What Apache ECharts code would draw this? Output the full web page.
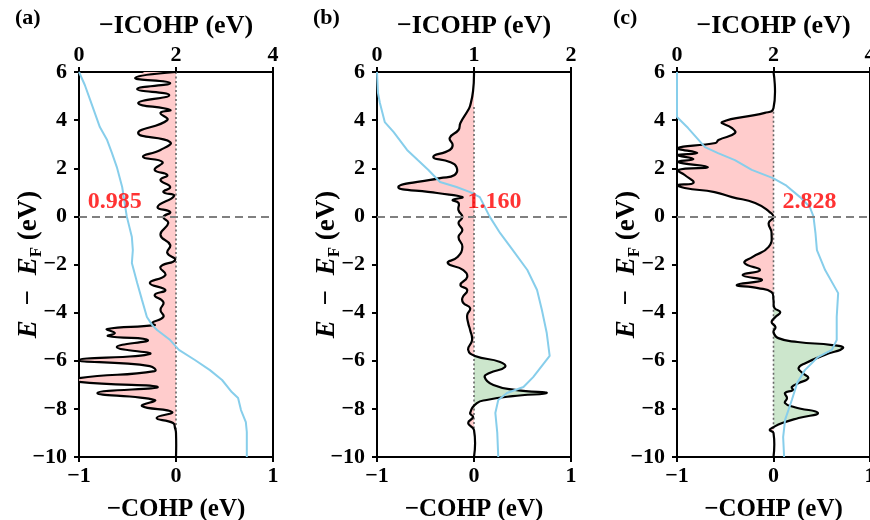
<!DOCTYPE html>
<html>
<head>
<meta charset="utf-8">
<script src="https://cdn.jsdelivr.net/npm/echarts@6.0.0/dist/echarts.min.js"></script>
<style>
  html, body { margin: 0; padding: 0; background: #fff; }
  #chart { width: 870px; height: 520px; }
</style>
</head>
<body>
<div id="chart"></div>
<script>
// ---- (a) ----
const energyA = [6.00, 5.75, 5.54, 5.29, 5.04, 4.71, 4.42, 4.30, 4.00, 3.46, 3.09, 2.76, 2.47, 2.26, 1.93, 1.72, 1.51, 1.22, 1.01, 0.85,
  0.39, 0.18, -0.03, -0.28, -0.77, -1.19, -1.52, -1.81, -2.10, -2.44, -2.77, -3.06, -3.27, -3.56, -3.89, -4.18, -4.43, -4.52, -4.68, -4.85,
  -4.97, -5.14, -5.43, -5.72, -5.97, -6.22, -6.43, -6.72, -6.88, -7.09, -7.34, -7.63, -7.88, -8.13, -8.38, -8.59, -8.80, -9.00, -10.00];
const cohpA = [0, -0.42, -0.06, -0.40, -0.07, -0.39, -0.06, -0.16, -0.09, -0.39, -0.06, -0.16, -0.34, -0.14, -0.22, -0.09, -0.16, -0.06, -0.13, -0.02,
  -0.19, -0.06, -0.13, -0.08, -0.16, -0.06, -0.09, -0.01, -0.16, -0.11, -0.27, -0.11, -0.22, -0.13, -0.16, -0.13, -0.25, -0.22, -0.71, -0.63,
  -0.70, -0.29, -0.61, -0.27, -1.00, -0.27, -0.22, -1.00, -1.00, -0.19, -0.81, -0.22, -0.35, -0.04, -0.20, -0.03, -0.01, 0, 0];
const icohpEnergyA = [6.0, 5.46, 4.84, 3.71, 3.17, 2.63, 2.05, 1.22, 0, -0.86, -1.40, -1.94, -2.77, -3.48, -4.18, -4.52, -4.72, -5.14,
  -5.55, -5.97, -6.39, -6.80, -7.30, -7.55, -8.05, -8.55, -8.96, -10.0];
const icohpA = [0, 0.12, 0.23, 0.43, 0.58, 0.68, 0.78, 0.89, 0.985, 1.09, 1.11, 1.09, 1.20, 1.30, 1.40, 1.51, 1.61, 1.88,
  2.06, 2.39, 2.70, 2.95, 3.15, 3.28, 3.34, 3.44, 3.46, 3.46];

// ---- (b) ----
const energyB = [6.0, 5.2, 4.6, 4.42, 3.88, 3.59, 3.26, 2.97, 2.76, 2.47, 2.26, 2.05, 1.72, 1.59, 1.22, 0.97, 0.80, 0.68, 0.56, 0.26,
  -0.03, -0.28, -0.57, -0.86, -1.27, -1.69, -1.94, -2.23, -2.52, -2.85, -3.06, -3.39, -3.60, -3.81, -4.10, -4.43, -4.72, -5.14, -5.55, -5.80,
  -6.05, -6.26, -6.51, -6.68, -7.01, -7.22, -7.34, -7.47, -7.63, -7.76, -8.17, -8.34, -8.59, -8.88, -10.0];
const cohpB = [0, -0.01, -0.04, -0.06, -0.14, -0.16, -0.25, -0.22, -0.25, -0.42, -0.25, -0.18, -0.20, -0.35, -0.78, -0.38, -0.12, -0.22, -0.16, -0.16,
  -0.12, -0.16, -0.12, -0.16, -0.12, -0.17, -0.27, -0.11, -0.07, -0.14, -0.07, -0.12, -0.11, -0.04, -0.07, -0.06, -0.04, -0.02, -0.06, 0.01,
  0.27, 0.32, 0.16, 0.11, 0.20, 0.44, 0.75, 0.40, 0.13, 0.03, -0.04, -0.01, -0.06, 0, 0];
const icohpEnergyB = [6.0, 5.13, 4.71, 3.92, 3.51, 2.76, 2.34, 1.93, 1.43, 1.22, 1.01, 0.80, 0, -0.7, -1.40, -2.23, -3.06, -3.89,
  -4.85, -5.80, -6.68, -7.09, -7.34, -7.63, -8.17, -9.00, -10.0];
const icohpB = [0, 0.01, 0.03, 0.08, 0.17, 0.31, 0.42, 0.53, 0.65, 0.82, 0.96, 1.06, 1.160, 1.27, 1.40, 1.55, 1.65, 1.70,
  1.75, 1.78, 1.61, 1.51, 1.34, 1.25, 1.22, 1.24, 1.25];

// ---- (c) ----
const energyC = [6.0, 4.5, 4.30, 3.92, 3.67, 3.46, 3.17, 3.05, 2.84, 2.63, 2.55, 2.38, 2.26, 2.05, 1.93, 1.72, 1.39, 1.30, 1.18, 1.01,
  0.80, 0.56, 0.18, -0.03, -0.28, -0.69, -1.27, -1.69, -1.94, -2.23, -2.44, -2.65, -2.85, -2.98, -3.15, -3.48, -3.81, -3.98, -4.18, -4.39,
  -4.60, -4.81, -5.06, -5.22, -5.35, -5.47, -5.76, -6.10, -6.30, -6.51, -6.72, -6.93, -7.09, -7.22, -7.34, -7.55, -7.76, -7.93, -8.17, -8.38,
  -8.59, -8.76, -8.88, -9.00, -10.0];
const cohpC = [0, 0, -0.09, -0.53, -0.43, -0.40, -0.57, -0.60, -0.99, -0.79, -0.99, -0.83, -0.99, -0.68, -0.99, -0.92, -0.83, -0.99, -0.92, -0.61,
  -0.43, -0.19, -0.04, 0, -0.05, -0.02, -0.05, -0.22, -0.30, -0.14, -0.32, -0.12, -0.38, -0.16, -0.02, 0, 0.01, 0.07, 0.02, -0.02,
  0.02, 0, 0.05, 0.25, 0.61, 0.72, 0.53, 0.33, 0.26, 0.30, 0.36, 0.26, 0.19, 0.20, 0.12, 0.14, 0.12, 0.22, 0.46, 0.26,
  0.09, 0, -0.04, 0, 0];
const icohpEnergyC = [6.0, 4.13, 3.67, 2.88, 2.63, 2.34, 1.93, 1.59, 1.30, 0.80, 0.40, 0, -0.7, -1.40, -2.23, -2.94, -3.19, -4.18,
  -5.14, -5.55, -5.85, -6.39, -6.93, -7.63, -8.46, -9.17, -10.0];
const icohpC = [0, 0, 0.23, 0.58, 0.85, 1.20, 1.55, 1.99, 2.25, 2.55, 2.75, 2.828, 2.87, 2.90, 3.07, 3.27, 3.34, 3.31,
  3.31, 3.21, 2.92, 2.65, 2.49, 2.38, 2.24, 2.20, 2.22];

// Shared axis ticks
const energyTicks = { min: -10, max: 6, step: 2 };
const cohpTicks = { min: -1, max: 1, step: 1 };
const icohpMax = [4, 2, 4];
const icohpStep = [2, 1, 2];
const panelTags = ['(a)', '(b)', '(c)'];

const FONT = '"Liberation Serif", "Times New Roman", serif';
const SMOOTH = 0.5;
const BLUE = '#87CEEB';

const panels = [
  { energy: energyA, cohp: cohpA, iEnergy: icohpEnergyA, icohp: icohpA, span: [6.0, -8.9] },
  { energy: energyB, cohp: cohpB, iEnergy: icohpEnergyB, icohp: icohpB, span: [4.55, -8.9] },
  { energy: energyC, cohp: cohpC, iEnergy: icohpEnergyC, icohp: icohpC, span: [4.35, -8.85] }
];

// layout of the three frames
const frames = [
  { left: 79, width: 194, tagX: 15, labelShift: -12 },
  { left: 377, width: 194, tagX: 313, labelShift: 5 },
  { left: 677, width: 193, tagX: 613, labelShift: -4 }
];

const minus = v => String(v).replace('-', '\u2212');

const tickText = { fontFamily: FONT, fontWeight: 'bold', fontSize: 22, color: '#000' };
const bottomTitle = { fontFamily: FONT, fontWeight: 'bold', fontSize: 25, color: '#000' };
const topTitle = { fontFamily: FONT, fontWeight: 'bold', fontSize: 26, color: '#000' };

const grid = [], xAxis = [], yAxis = [], series = [], graphic = [];

panels.forEach((p, i) => {
  const f = frames[i];
  grid.push({ left: f.left, width: f.width, top: 72, height: 385, show: true, outerBoundsMode: 'none',
    borderColor: '#000', borderWidth: 2, backgroundColor: 'transparent' });

  // bottom: -COHP
  xAxis.push({
    gridIndex: i, type: 'value', position: 'bottom',
    min: cohpTicks.min, max: cohpTicks.max, interval: cohpTicks.step,
    axisLine: { show: true, onZero: false, lineStyle: { color: '#000', width: 2 } },
    axisTick: { show: true, inside: false, length: 5, lineStyle: { color: '#000', width: 2 } },
    axisLabel: Object.assign({ margin: 8, formatter: minus }, tickText),
    splitLine: { show: false },
    name: '\u2212COHP (eV)', nameLocation: 'middle', nameGap: 40, nameMoveOverlap: false, nameTextStyle: bottomTitle
  });
  // top: -ICOHP
  xAxis.push({
    gridIndex: i, type: 'value', position: 'top',
    min: 0, max: icohpMax[i], interval: icohpStep[i],
    axisLine: { show: true, onZero: false, lineStyle: { color: '#000', width: 2 } },
    axisTick: { show: true, inside: false, length: 5, lineStyle: { color: '#000', width: 2 } },
    axisLabel: Object.assign({ margin: 6, formatter: minus }, tickText),
    splitLine: { show: false },
    name: '\u2212ICOHP (eV)', nameLocation: 'middle', nameGap: 33, nameMoveOverlap: false, nameTextStyle: topTitle
  });
  yAxis.push({
    gridIndex: i, type: 'value',
    min: energyTicks.min, max: energyTicks.max, interval: energyTicks.step,
    axisLine: { show: true, onZero: false, lineStyle: { color: '#000', width: 2 } },
    axisTick: { show: true, inside: false, length: 5, lineStyle: { color: '#000', width: 2 } },
    axisLabel: Object.assign({ margin: 12, formatter: minus }, tickText),
    splitLine: { show: false },
    name: '{i|E} {m|\u2212} {i|E}{s|F} (eV)', nameLocation: 'middle', nameRotate: 90, nameGap: 34,
    nameMoveOverlap: false,
    nameTextStyle: Object.assign({}, topTitle, {
      fontSize: 27, lineHeight: 32,
      rich: {
        i: { fontFamily: FONT, fontWeight: 'bold', fontStyle: 'italic', fontSize: 27, color: '#000', lineHeight: 32 },
        m: { fontFamily: FONT, fontWeight: 'bold', fontSize: 27, color: '#000', lineHeight: 32, padding: [0, 8, 0, 8] },
        s: { fontFamily: FONT, fontWeight: 'bold', fontSize: 17, color: '#000', lineHeight: 14, verticalAlign: 'bottom' }
      }
    })
  });

  const pts = p.energy.map((e, k) => [p.cohp[k], e]);
  const xb = 2 * i, xt = 2 * i + 1;

  // shaded areas between the -COHP curve and zero; control points kept on their own side of zero
  const fill = (sign, color) => ({
    type: 'custom', xAxisIndex: xb, yAxisIndex: i, clip: true, silent: true, z: 1,
    data: [[0, 0]],
    renderItem: (params, api) => {
      const lo = api.coord([sign < 0 ? -2 : 0, energyTicks.min - 2]);
      const hi = api.coord([sign < 0 ? 0 : 2, energyTicks.max + 2]);
      return {
        type: 'polygon',
        shape: {
          points: pts.map(([v, e]) => api.coord([sign < 0 ? Math.min(v, 0) : Math.max(v, 0), e])),
          smooth: SMOOTH,
          smoothConstraint: [[Math.min(lo[0], hi[0]), Math.min(lo[1], hi[1])], [Math.max(lo[0], hi[0]), Math.max(lo[1], hi[1])]]
        },
        style: { fill: color }
      };
    }
  });
  series.push(fill(-1, 'rgb(255,204,204)'));
  series.push(fill(1, 'rgb(204,230,204)'));

  // zero reference (dotted) and Fermi level (dashed)
  series.push({
    type: 'line', xAxisIndex: xb, yAxisIndex: i, z: 2, silent: true,
    data: [[0, p.span[0]], [0, p.span[1]]], showSymbol: false, symbol: 'none',
    lineStyle: { color: '#666', width: 1.6, type: [2, 2.5] },
    markLine: {
      silent: true, symbol: ['none', 'none'], label: { show: false },
      lineStyle: { color: '#808080', width: 2, type: [8, 5] },
      data: [{ yAxis: 0 }]
    }
  });

  // -COHP curve
  series.push({
    type: 'custom', xAxisIndex: xb, yAxisIndex: i, clip: true, silent: true, z: 3,
    data: [[0, 0]],
    renderItem: (params, api) => ({
      type: 'polyline',
      shape: { points: pts.map(q => api.coord(q)), smooth: SMOOTH },
      style: { stroke: '#000', lineWidth: 2.2, fill: null }
    })
  });

  // -ICOHP curve
  series.push({
    type: 'line', xAxisIndex: xt, yAxisIndex: i, z: 4, silent: true,
    data: p.iEnergy.map((e, k) => [p.icohp[k], e]),
    showSymbol: false, symbol: 'none',
    lineStyle: { color: BLUE, width: 2 }
  });

  // -ICOHP value at the Fermi level
  const k0 = p.iEnergy.indexOf(0);
  series.push({
    type: 'scatter', xAxisIndex: xt, yAxisIndex: i, z: 5, silent: true,
    symbolSize: 0,
    data: [[p.icohp[k0], 0]],
    label: {
      show: true, position: 'top', distance: 3, offset: [f.labelShift, 0],
      formatter: d => d.value[0].toFixed(3),
      fontFamily: FONT, fontWeight: 'bold', fontSize: 24, color: '#ff0000'
    }
  });

  graphic.push({
    type: 'text', left: f.tagX, top: 7,
    style: { text: panelTags[i], fontFamily: FONT, fontWeight: 'bold', fontSize: 22, fill: '#000' }
  });
});

const chart = echarts.init(document.getElementById('chart'), null, { renderer: 'canvas' });
chart.setOption({
  animation: false,
  backgroundColor: '#fff',
  grid, xAxis, yAxis, series, graphic
});
</script>
</body>
</html>
